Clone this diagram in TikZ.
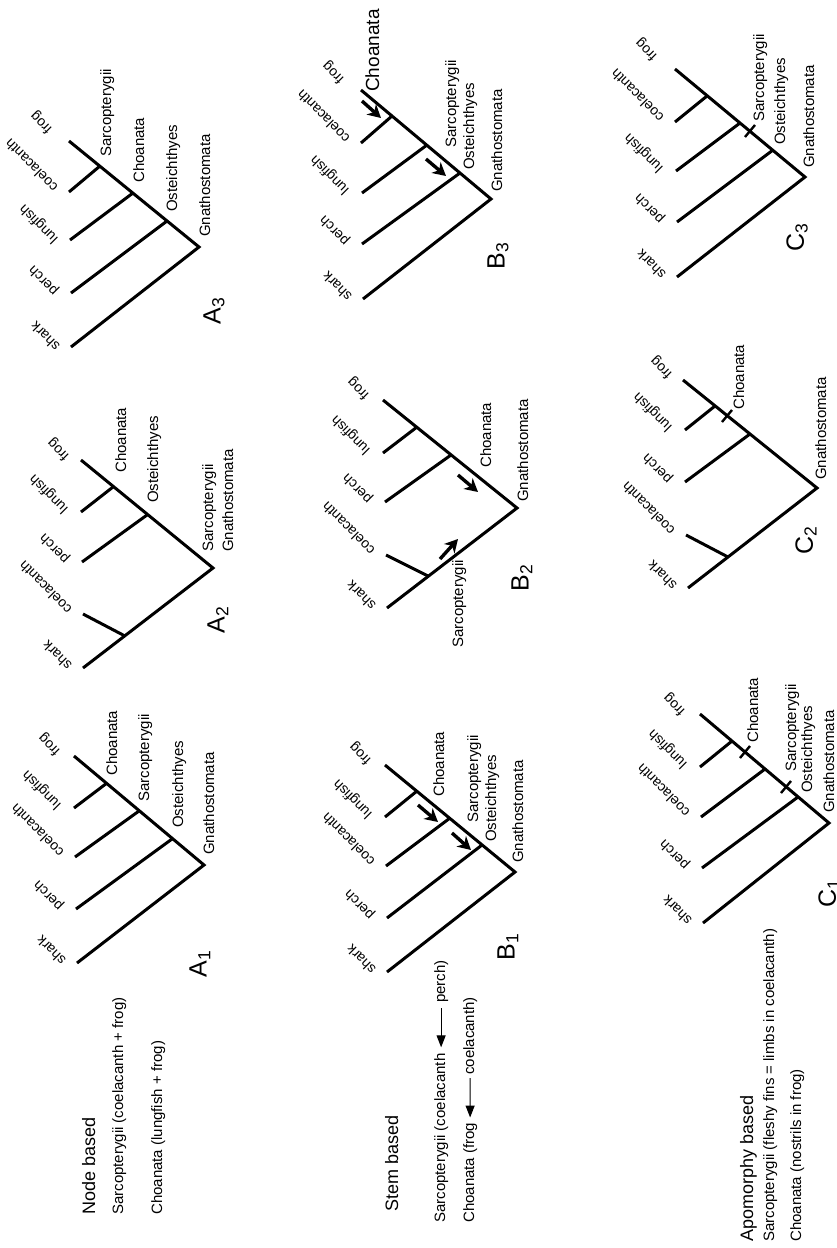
\documentclass[tikz,border=0pt]{standalone}
\usepackage{fontspec}
\setmainfont{Liberation Sans}
\usetikzlibrary{arrows.meta,calc}
\begin{document}
\begin{tikzpicture}[x=1pt,y=-1pt,
  br/.style={line width=3pt, line join=miter},
  lab/.style={rotate=90, anchor=base west, inner sep=0pt, font=\fontsize{15}{18}\selectfont},
  bigt/.style={rotate=90, anchor=base west, inner sep=0pt, font=\fontsize{18}{22}\selectfont},
  taxon/.style={rotate=135, anchor=south west, inner sep=0pt, font=\fontsize{14}{17}\selectfont},
  panel/.style={rotate=90, anchor=center, inner sep=0pt, font=\fontsize{25}{30}\selectfont},
  farr/.style={line width=3.4pt, -{Stealth[length=13pt,width=14pt,inset=4pt]}},
  tarr/.style={line width=1.2pt, -{Triangle[length=12pt,width=9pt]}},
  tickmark/.style={line width=2.4pt}
]
\useasboundingbox[fill=white] (0,0) rectangle (837,1248);

% ================= A1 =================
\coordinate (a1frog) at (74,756);  \coordinate (a1ch) at (107,783); \coordinate (a1lung) at (74,808);
\coordinate (a1sa) at (139,811);   \coordinate (a1coel) at (75,857); \coordinate (a1os) at (172,839);
\coordinate (a1perch) at (76,909); \coordinate (a1root) at (204,865); \coordinate (a1shark) at (77,963);
\draw[br] (a1shark) -- (a1root) -- (a1frog);
\draw[br] (a1ch) -- (a1lung); \draw[br] (a1sa) -- (a1coel); \draw[br] (a1os) -- (a1perch);
\node[taxon] (a1frogL) at ($(a1frog)+(-11,-8)$) {frog};
\node[taxon] (a1lungL) at ($(a1lung)+(-10,-6)$) {lungfish};
\node[taxon] (a1coelL) at ($(a1coel)+(-10,-6)$) {coelacanth};
\node[taxon] (a1perchL) at ($(a1perch)+(-10,-6)$) {perch};
\node[taxon] (a1sharkL) at ($(a1shark)+(-10,-4)$) {shark};
\node[lab] (a1chL) at (117,776) {Choanata};
\node[lab] (a1saL) at (149,802) {Sarcopterygii};
\node[lab] (a1osL) at (183,828) {Osteichthyes};
\node[lab] (a1gnL) at (214,855) {Gnathostomata};
\node[panel] (a1P) at (200,964) {A\textsubscript{1}};

% ================= A2 =================
\coordinate (a2frog) at (81,460);  \coordinate (a2ch) at (113,487); \coordinate (a2lung) at (81,512);
\coordinate (a2os) at (147,515);   \coordinate (a2perch) at (82,562); \coordinate (a2root) at (213,568);
\coordinate (a2shark) at (83,668); \coordinate (a2cn) at (125,636); \coordinate (a2coel) at (83,614);
\draw[br] (a2shark) -- (a2root) -- (a2frog);
\draw[br] (a2ch) -- (a2lung); \draw[br] (a2os) -- (a2perch); \draw[br] (a2cn) -- (a2coel);
\node[taxon] (a2frogL) at ($(a2frog)+(-9,-7)$) {frog};
\node[taxon] (a2lungL) at ($(a2lung)+(-10,-6)$) {lungfish};
\node[taxon] (a2perchL) at ($(a2perch)+(-10,-6)$) {perch};
\node[taxon] (a2coelL) at ($(a2coel)+(-10,-6)$) {coelacanth};
\node[taxon] (a2sharkL) at ($(a2shark)+(-10,-4)$) {shark};
\node[lab] (a2chL) at (126,473) {Choanata};
\node[lab] (a2osL) at (158,503) {Osteichthyes};
\node[lab] (a2saL) at (213,552) {Sarcopterygii};
\node[lab] (a2gnL) at (233,552) {Gnathostomata};
\node[panel] (a2P) at (218,620) {A\textsubscript{2}};

% ================= A3 =================
\coordinate (a3frog) at (69,141);  \coordinate (a3sa) at (100,166); \coordinate (a3coel) at (69,192);
\coordinate (a3ch) at (133,193);   \coordinate (a3lung) at (70,240); \coordinate (a3os) at (167,221);
\coordinate (a3perch) at (71,293); \coordinate (a3root) at (199,247); \coordinate (a3shark) at (71,347);
\draw[br] (a3shark) -- (a3root) -- (a3frog);
\draw[br] (a3sa) -- (a3coel); \draw[br] (a3ch) -- (a3lung); \draw[br] (a3os) -- (a3perch);
\node[taxon] (a3frogL) at ($(a3frog)+(-14,-15)$) {frog};
\node[taxon] (a3coelL) at ($(a3coel)+(-10,-6)$) {coelacanth};
\node[taxon] (a3lungL) at ($(a3lung)+(-9,-4)$) {lungfish};
\node[taxon] (a3perchL) at ($(a3perch)+(-10,-5)$) {perch};
\node[taxon] (a3sharkL) at ($(a3shark)+(-10,-2)$) {shark};
\node[lab] (a3saL) at (111,157) {Sarcopterygii};
\node[lab] (a3chL) at (144,183) {Choanata};
\node[lab] (a3osL) at (177,212) {Osteichthyes};
\node[lab] (a3gnL) at (210,237) {Gnathostomata};
\node[panel] (a3P) at (214,311) {A\textsubscript{3}};

% ================= B1 =================
\coordinate (b1frog) at (385,765);  \coordinate (b1ch) at (417,791); \coordinate (b1lung) at (385,817);
\coordinate (b1sa) at (450,818);    \coordinate (b1coel) at (386,866); \coordinate (b1os) at (482,845);
\coordinate (b1perch) at (387,918); \coordinate (b1root) at (515,872); \coordinate (b1shark) at (387,972);
\draw[br] (b1shark) -- (b1root) -- (b1frog);
\draw[br] (b1ch) -- (b1lung); \draw[br] (b1sa) -- (b1coel); \draw[br] (b1os) -- (b1perch);
\coordinate (b1a1s) at (418,805); \coordinate (b1a1e) at (438,822);
\coordinate (b1a2s) at (452,833); \coordinate (b1a2e) at (471,850);
\draw[farr] (b1a1s) -- (b1a1e); \draw[farr] (b1a2s) -- (b1a2e);
\node[taxon] (b1frogL) at ($(b1frog)+(-11,-8)$) {frog};
\node[taxon] (b1lungL) at ($(b1lung)+(-10,-6)$) {lungfish};
\node[taxon] (b1coelL) at ($(b1coel)+(-10,-6)$) {coelacanth};
\node[taxon] (b1perchL) at ($(b1perch)+(-10,-6)$) {perch};
\node[taxon] (b1sharkL) at ($(b1shark)+(-10,-4)$) {shark};
\node[lab] (b1chL) at (444,797) {Choanata};
\node[lab] (b1saL) at (478,823) {Sarcopterygii};
\node[lab] (b1osL) at (496,842) {Osteichthyes};
\node[lab] (b1gnL) at (523,863) {Gnathostomata};
\node[panel] (b1P) at (508,947) {B\textsubscript{1}};

% ================= B2 =================
\coordinate (b2frog) at (383,400);  \coordinate (b2ln) at (417,427); \coordinate (b2lung) at (383,453);
\coordinate (b2pn) at (451,455);    \coordinate (b2perch) at (385,502); \coordinate (b2root) at (517,508);
\coordinate (b2shark) at (387,608); \coordinate (b2cn) at (428,576); \coordinate (b2coel) at (386,555);
\draw[br] (b2shark) -- (b2root) -- (b2frog);
\draw[br] (b2ln) -- (b2lung); \draw[br] (b2pn) -- (b2perch); \draw[br] (b2cn) -- (b2coel);
\coordinate (b2a1s) at (458,475); \coordinate (b2a1e) at (478,492);
\coordinate (b2a2s) at (440,559); \coordinate (b2a2e) at (458,539);
\draw[farr] (b2a1s) -- (b2a1e); \draw[farr] (b2a2s) -- (b2a2e);
\node[taxon] (b2frogL) at ($(b2frog)+(-11,-8)$) {frog};
\node[taxon] (b2lungL) at ($(b2lung)+(-10,-6)$) {lungfish};
\node[taxon] (b2perchL) at ($(b2perch)+(-10,-6)$) {perch};
\node[taxon] (b2coelL) at ($(b2coel)+(-10,-6)$) {coelacanth};
\node[taxon] (b2sharkL) at ($(b2shark)+(-10,-4)$) {shark};
\node[lab] (b2chL) at (491,468) {Choanata};
\node[lab] (b2gnL) at (528,502) {Gnathostomata};
\node[lab] (b2saL) at (463,648) {Sarcopterygii};
\node[panel] (b2P) at (522,578) {B\textsubscript{2}};

% ================= B3 =================
\coordinate (b3frog) at (361,90);   \coordinate (b3cn) at (392,116); \coordinate (b3coel) at (361,143);
\coordinate (b3ln) at (427,145);    \coordinate (b3lung) at (362,193); \coordinate (b3pn) at (460,173);
\coordinate (b3perch) at (362,244); \coordinate (b3root) at (491,199); \coordinate (b3shark) at (363,299);
\draw[br] (b3shark) -- (b3root) -- (b3frog);
\draw[br] (b3cn) -- (b3coel); \draw[br] (b3ln) -- (b3lung); \draw[br] (b3pn) -- (b3perch);
\coordinate (b3a1s) at (362,101); \coordinate (b3a1e) at (381,118);
\coordinate (b3a2s) at (426,159); \coordinate (b3a2e) at (446,176);
\draw[farr] (b3a1s) -- (b3a1e); \draw[farr] (b3a2s) -- (b3a2e);
\node[taxon] (b3frogL) at ($(b3frog)+(-14,-14)$) {frog};
\node[taxon] (b3coelL) at ($(b3coel)+(-10,-6)$) {coelacanth};
\node[taxon] (b3lungL) at ($(b3lung)+(-10,-6)$) {lungfish};
\node[taxon] (b3perchL) at ($(b3perch)+(-10,-6)$) {perch};
\node[taxon] (b3sharkL) at ($(b3shark)+(-10,-4)$) {shark};
\node[rotate=90, anchor=base west, inner sep=0pt, font=\fontsize{19}{23}\selectfont] (b3chL) at (379,92) {Choanata};
\node[lab] (b3saL) at (456,148) {Sarcopterygii};
\node[lab] (b3osL) at (474,170) {Osteichthyes};
\node[lab] (b3gnL) at (502,192) {Gnathostomata};
\node[panel] (b3P) at (498,256) {B\textsubscript{3}};

% ================= C1 =================
\coordinate (c1frog) at (700,714);  \coordinate (c1ch) at (732,741); \coordinate (c1lung) at (700,767);
\coordinate (c1sa) at (765,769);    \coordinate (c1coel) at (701,817); \coordinate (c1os) at (798,797);
\coordinate (c1perch) at (702,868); \coordinate (c1root) at (829,823); \coordinate (c1shark) at (703,923);
\draw[br] (c1shark) -- (c1root) -- (c1frog);
\draw[br] (c1ch) -- (c1lung); \draw[br] (c1sa) -- (c1coel); \draw[br] (c1os) -- (c1perch);
\coordinate (c1t1) at (745,752); \coordinate (c1t2) at (786,787);
\draw[tickmark] ($(c1t1)+(-5,6)$) -- ($(c1t1)+(5,-6)$);
\draw[tickmark] ($(c1t2)+(-5,6)$) -- ($(c1t2)+(5,-6)$);
\node[taxon] (c1frogL) at ($(c1frog)+(-12,-6)$) {frog};
\node[taxon] (c1lungL) at ($(c1lung)+(-10,-6)$) {lungfish};
\node[taxon] (c1coelL) at ($(c1coel)+(-10,-6)$) {coelacanth};
\node[taxon] (c1perchL) at ($(c1perch)+(-10,-6)$) {perch};
\node[taxon] (c1sharkL) at ($(c1shark)+(-10,-4)$) {shark};
\node[lab] (c1chL) at (758,743) {Choanata};
\node[lab] (c1saL) at (796,772) {Sarcopterygii};
\node[lab] (c1osL) at (812,793) {Osteichthyes};
\node[lab] (c1gnL) at (834,813) {Gnathostomata};
\node[panel] (c1P) at (829,893) {C\textsubscript{1}};

% ================= C2 =================
\coordinate (c2frog) at (683,380);  \coordinate (c2ln) at (715,406); \coordinate (c2lung) at (685,430);
\coordinate (c2pn) at (750,434);    \coordinate (c2perch) at (685,482); \coordinate (c2root) at (817,488);
\coordinate (c2shark) at (688,588); \coordinate (c2cn) at (728,557); \coordinate (c2coel) at (686,535);
\draw[br] (c2shark) -- (c2root) -- (c2frog);
\draw[br] (c2ln) -- (c2lung); \draw[br] (c2pn) -- (c2perch); \draw[br] (c2cn) -- (c2coel);
\coordinate (c2t1) at (727,416);
\draw[tickmark] ($(c2t1)+(-5,6)$) -- ($(c2t1)+(5,-6)$);
\node[taxon] (c2frogL) at ($(c2frog)+(-8,-9)$) {frog};
\node[taxon] (c2lungL) at ($(c2lung)+(-10,-6)$) {lungfish};
\node[taxon] (c2perchL) at ($(c2perch)+(-10,-6)$) {perch};
\node[taxon] (c2coelL) at ($(c2coel)+(-10,-6)$) {coelacanth};
\node[taxon] (c2sharkL) at ($(c2shark)+(-10,-4)$) {shark};
\node[lab] (c2chL) at (744,410) {Choanata};
\node[lab] (c2gnL) at (826,480) {Gnathostomata};
\node[panel] (c2P) at (806,540) {C\textsubscript{2}};

% ================= C3 =================
\coordinate (c3frog) at (675,69);   \coordinate (c3cn) at (707,96); \coordinate (c3coel) at (675,122);
\coordinate (c3ln) at (740,123);    \coordinate (c3lung) at (676,171); \coordinate (c3pn) at (773,150);
\coordinate (c3perch) at (677,222); \coordinate (c3root) at (805,177); \coordinate (c3shark) at (677,277);
\draw[br] (c3shark) -- (c3root) -- (c3frog);
\draw[br] (c3cn) -- (c3coel); \draw[br] (c3ln) -- (c3lung); \draw[br] (c3pn) -- (c3perch);
\coordinate (c3t1) at (750,131);
\draw[tickmark] ($(c3t1)+(-5,6)$) -- ($(c3t1)+(5,-6)$);
\node[taxon] (c3frogL) at ($(c3frog)+(-15,-16)$) {frog};
\node[taxon] (c3coelL) at ($(c3coel)+(-10,-6)$) {coelacanth};
\node[taxon] (c3lungL) at ($(c3lung)+(-10,-6)$) {lungfish};
\node[taxon] (c3perchL) at ($(c3perch)+(-10,-6)$) {perch};
\node[taxon] (c3sharkL) at ($(c3shark)+(-10,-4)$) {shark};
\node[lab] (c3saL) at (764,122) {Sarcopterygii};
\node[lab] (c3osL) at (785,145) {Osteichthyes};
\node[lab] (c3gnL) at (814,168) {Gnathostomata};
\node[panel] (c3P) at (797,237) {C\textsubscript{3}};

% ================= captions =================
\node[bigt] (nodeT) at (95,1215) {Node based};
\node[lab] (nodeS) at (123,1215) {Sarcopterygii (coelacanth + frog)};
\node[lab] (nodeC) at (162,1215) {Choanata (lungfish + frog)};

\node[bigt] (stemT) at (398,1212) {Stem based};
\node[lab] (s1a) at (445,1223) {Sarcopterygii (coelacanth};
\node[lab] (s1b) at (445,1003) {perch)};
\node[lab] (s2a) at (474,1223) {Choanata (frog};
\node[lab] (s2b) at (474,1075) {coelacanth)};
\draw[tarr, shorten <=5pt, shorten >=6pt] (s1b.west) -- (s1a.east);
\draw[tarr, shorten <=3pt, shorten >=5pt] (s2b.west) -- (s2a.east);

\node[bigt] (apoT) at (753,1242) {Apomorphy based};
\node[lab] (apoS) at (774,1242) {Sarcopterygii (fleshy fins = limbs in coelacanth)};
\node[lab] (apoC) at (801,1242) {Choanata (nostrils in frog)};
\end{tikzpicture}
\end{document}
